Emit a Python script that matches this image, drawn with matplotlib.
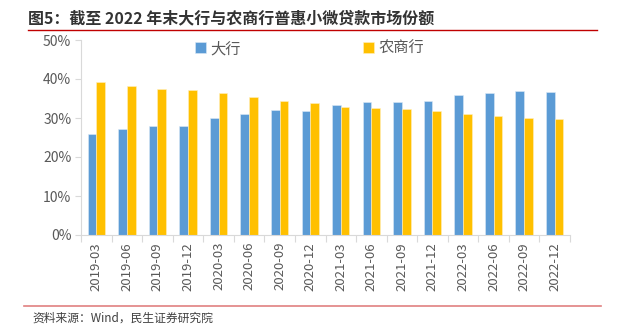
import matplotlib
matplotlib.use("Agg")
import matplotlib.pyplot as plt
import numpy as np

plt.rcParams['font.family'] = ['Noto Sans CJK SC', 'DejaVu Sans']

categories = ["2019-03", "2019-06", "2019-09", "2019-12", "2020-03", "2020-06",
              "2020-09", "2020-12", "2021-03", "2021-06", "2021-09", "2021-12",
              "2022-03", "2022-06", "2022-09", "2022-12"]
big_banks = [25.9, 27.2, 27.9, 27.9, 29.9, 31.0, 32.0, 31.8,
             33.4, 34.1, 34.2, 34.4, 36.0, 36.4, 36.8, 36.6]
rural_banks = [39.3, 38.1, 37.4, 37.1, 36.3, 35.4, 34.3, 33.9,
               32.8, 32.5, 32.4, 31.8, 31.1, 30.5, 30.0, 29.8]
series_names = ["大行", "农商行"]
yticks = [0, 10, 20, 30, 40, 50]

W, H = 621, 328
fig = plt.figure(figsize=(W / 100, H / 100), dpi=100)
ax = fig.add_axes([81 / W, 1 - 235 / H, (570 - 81) / W, (235 - 40) / H])

x = np.arange(len(categories))
bw = 0.285
blue = "#5B9BD5"
gold = "#FFC000"
ax.bar(x - bw / 2, big_banks, bw, color=blue, edgecolor="#DCE9F6", linewidth=0.4, label=series_names[0])
ax.bar(x + bw / 2, rural_banks, bw, color=gold, edgecolor="#FFF0C0", linewidth=0.4, label=series_names[1])

ax.set_xlim(-0.5, len(categories) - 0.5)
ax.set_ylim(0, 50)
ax.set_yticks(yticks)
ax.set_yticklabels([f"{v}%" for v in yticks], color="#595959", fontsize=10)
ax.set_xticks(x)
ax.set_xticklabels(categories, rotation=90, color="#595959", fontsize=9.5)
ax.tick_params(axis='x', length=0, pad=5)
ax.set_xticks(np.arange(-0.5, len(categories), 1), minor=True)
ax.tick_params(axis='x', which='minor', length=5, color="#D9D9D9", width=0.8)
ax.tick_params(axis='y', length=4, color="#D9D9D9", width=0.8, pad=3)

for s in ["top", "right"]:
    ax.spines[s].set_visible(False)
for s in ["left", "bottom"]:
    ax.spines[s].set_color("#D9D9D9")
    ax.spines[s].set_linewidth(0.8)

leg = ax.legend(loc="upper center", bbox_to_anchor=(0.468, 1.07), ncol=2, frameon=False,
                fontsize=11, handlelength=0.7, handleheight=0.7, handletextpad=0.3,
                columnspacing=8.0)
for t in leg.get_texts():
    t.set_color("#595959")

fig.text(28 / W, 1 - 18 / H, "图5：截至 2022 年末大行与农商行普惠小微贷款市场份额",
         fontsize=11.5, fontweight="bold", color="#333333", va="center", ha="left")
fig.add_artist(plt.Line2D([28 / W, 597 / W], [1 - 30 / H, 1 - 30 / H],
                          color="#C00000", linewidth=1.0))
fig.add_artist(plt.Line2D([24 / W, 601 / W], [1 - 306 / H, 1 - 306 / H],
                          color="#E08080", linewidth=1.2))
fig.text(32 / W, 1 - 318 / H, "资料来源：Wind，民生证券研究院",
         fontsize=8.5, color="#404040", va="center", ha="left")

fig.savefig("out.png", dpi=100)
